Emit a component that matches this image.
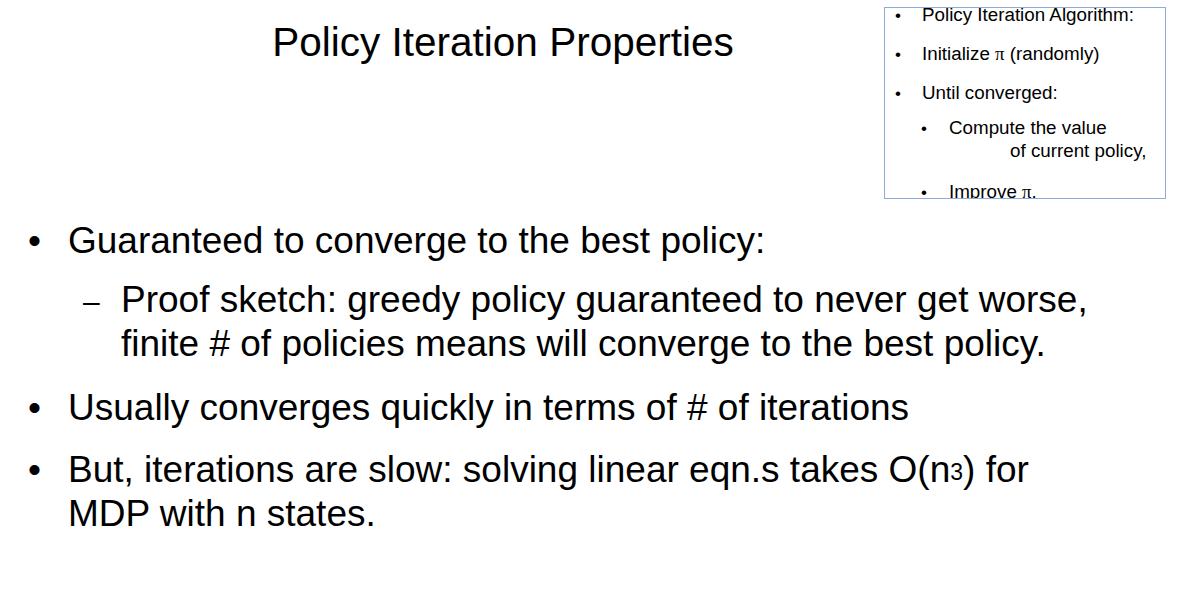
import React from "react";

const title = "Policy Iteration Properties";
const mainLines = [
  { marker: "•", mx: 28, x: 68, y: 253, text: "Guaranteed to converge to the best policy:" },
  { marker: "–", mx: 83, x: 121, y: 312, text: "Proof sketch: greedy policy guaranteed to never get worse," },
  { marker: "", mx: 0, x: 121, y: 356, text: "finite # of policies means will converge to the best policy." },
  { marker: "•", mx: 28, x: 68, y: 420, text: "Usually converges quickly in terms of # of iterations" },
  { marker: "•", mx: 28, x: 68, y: 482, text: "But, iterations are slow: solving linear eqn.s takes O(n", sup: "3", after: ") for" },
  { marker: "", mx: 0, x: 68, y: 526, text: "MDP with n states." },
];
const boxLines = [
  { marker: "•", mx: 895, x: 922, y: 21, parts: ["Policy Iteration Algorithm:"] },
  { marker: "•", mx: 895, x: 922, y: 60, parts: ["Initialize ", "π", " (randomly)"] },
  { marker: "•", mx: 895, x: 922, y: 99, parts: ["Until converged:"] },
  { marker: "•", mx: 921, x: 949, y: 134, parts: ["Compute the value"] },
  { marker: "", mx: 0, x: 1010, y: 157, parts: ["of current policy,"] },
  { marker: "•", mx: 921, x: 949, y: 198, parts: ["Improve ", "π", "."] },
];

const font = "'Liberation Sans', Arial, sans-serif";

export default function App() {
  return (
    <svg width={1182} height={604} style={{ position: "absolute", left: 0, top: 0, background: "#fff" }} fontFamily={font}>
      <text x={503} y={56} fontSize={40.5} textAnchor="middle" fill="#000">{title}</text>
      <defs>
        <clipPath id="bx"><rect x={884} y={4} width={282} height={195} /></clipPath>
      </defs>
      <g clipPath="url(#bx)">
        {boxLines.map((l, i) => (
          <g key={i}>
            {l.marker && <text x={l.mx} y={l.y} fontSize={17}>{l.marker}</text>}
            <text x={l.x} y={l.y} fontSize={18.8}>
              {l.parts.map((p, j) => (
                <tspan key={j} fontFamily={p === "π" ? "'Liberation Serif', serif" : font}>{p}</tspan>
              ))}
            </text>
          </g>
        ))}
      </g>
      <rect x={884.5} y={7.5} width={281} height={191} fill="none" stroke="#8faadc" strokeWidth={1} />
      {mainLines.map((l, i) => (
        <g key={i}>
          {l.marker && <text x={l.mx} y={l.y} fontSize={l.marker === "–" ? 30 : 37}>{l.marker}</text>}
          <text x={l.x} y={l.y} fontSize={37} fill="#000">
            {l.text}
            {l.sup && <tspan fontSize={23} dy={-2}>{l.sup}</tspan>}
            {l.after && <tspan dy={2}>{l.after}</tspan>}
          </text>
        </g>
      ))}
    </svg>
  );
}
